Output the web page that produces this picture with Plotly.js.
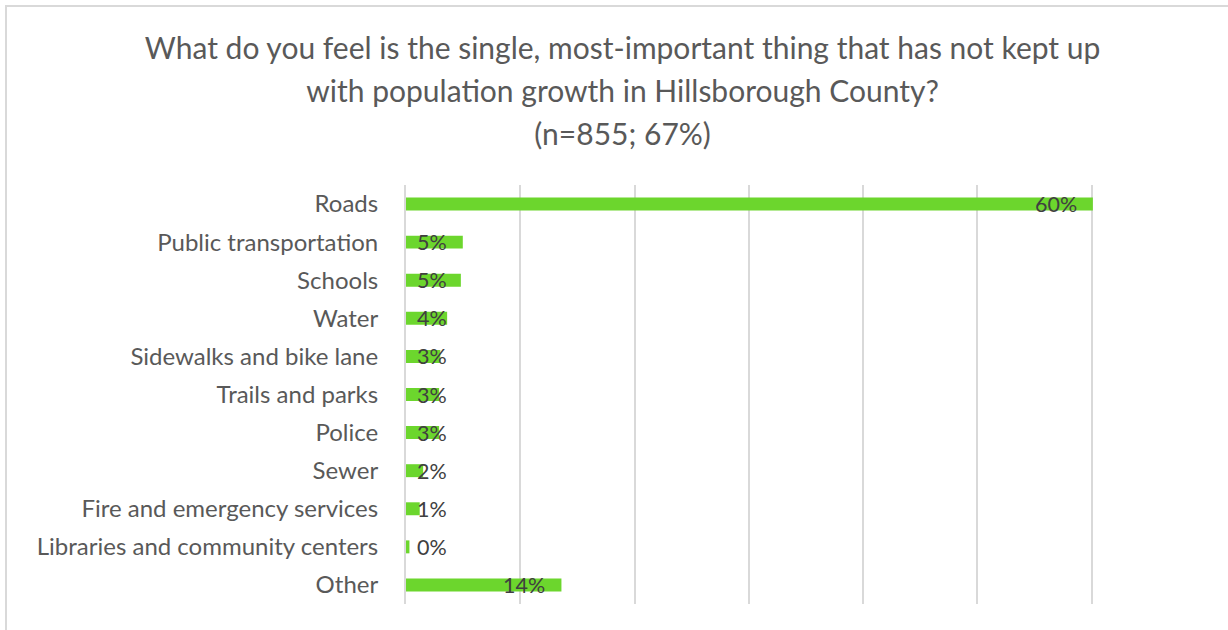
<!DOCTYPE html>
<html>
<head>
<meta charset="utf-8">
<script src="https://cdn.plot.ly/plotly-3.0.1.min.js"></script>
<style>
  html, body { margin: 0; padding: 0; background: #ffffff; }
  #chart { width: 1228px; height: 630px; }
</style>
</head>
<body>
<div id="chart"></div>
<script>
// ---- Data ----
const categories = [
  "Roads",
  "Public transportation",
  "Schools",
  "Water",
  "Sidewalks and bike lane",
  "Trails and parks",
  "Police",
  "Sewer",
  "Fire and emergency services",
  "Libraries and community centers",
  "Other"
];
const values = [60.1, 4.97, 4.8, 3.6, 3.0, 2.9, 2.9, 1.5, 1.2, 0.3, 13.6];
const valueLabels = ["60%", "5%", "5%", "4%", "3%", "3%", "3%", "2%", "1%", "0%", "14%"];
const titleLines = [
  "What do you feel is the single, most-important thing that has not kept up",
  "with population growth in Hillsborough County?",
  "(n=855; 67%)"
];
const xTicks = [0, 10, 20, 30, 40, 50, 60, 70];

// ---- Styling ----
const FONT = "Lato, 'Open Sans', 'DejaVu Sans', sans-serif";
const barColor = "#6cd62d";
const gridColor = "#d9d9d9";
const labelColor = "#595959";

const minLabelX = 5.0; // data labels never sit left of this position

const trace = {
  type: "bar",
  orientation: "h",
  y: categories,
  x: values,
  marker: { color: barColor },
  width: 0.34,
  hoverinfo: "none"
};

const annotations = categories.map((c, i) => ({
  x: Math.max(values[i], minLabelX),
  y: c,
  xref: "x",
  yref: "y",
  text: valueLabels[i],
  showarrow: false,
  xanchor: "right",
  yanchor: "middle",
  xshift: -14,
  yshift: 0,
  font: { family: FONT, size: 21.5, color: "#404040" }
}));

const layout = {
  width: 1228,
  height: 630,
  paper_bgcolor: "#ffffff",
  plot_bgcolor: "#ffffff",
  margin: { l: 406, r: 22, t: 185, b: 26, pad: 0 },
  showlegend: false,
  title: {
    text: titleLines.map(t => '<span style="font-size:30px">' + t + '</span>').join("<br>"),
    font: { family: FONT, size: 33, color: labelColor },
    x: 0.507,
    xanchor: "center",
    y: 1 - 59 / 630,
    yanchor: "middle",
    yref: "container"
  },
  xaxis: {
    range: [0, 70],
    tickvals: xTicks,
    showticklabels: false,
    showgrid: true,
    gridcolor: gridColor,
    gridwidth: 2,
    zeroline: false,
    showline: false,
    fixedrange: true
  },
  yaxis: {
    autorange: "reversed",
    tickfont: { family: FONT, size: 24, color: labelColor },
    ticks: "",
    ticklabelstandoff: 21,
    showgrid: false,
    zeroline: false,
    showline: true,
    linecolor: gridColor,
    linewidth: 2,
    fixedrange: true
  },
  annotations: annotations,
  shapes: [
    {
      type: "path",
      xref: "paper",
      yref: "paper",
      path: "M -0.5 -0.2 L -0.5 1.427 L 1.1 1.427",
      line: { color: gridColor, width: 2 }
    }
  ]
};

Plotly.newPlot("chart", [trace], layout, { displayModeBar: false, staticPlot: true });
</script>
</body>
</html>
